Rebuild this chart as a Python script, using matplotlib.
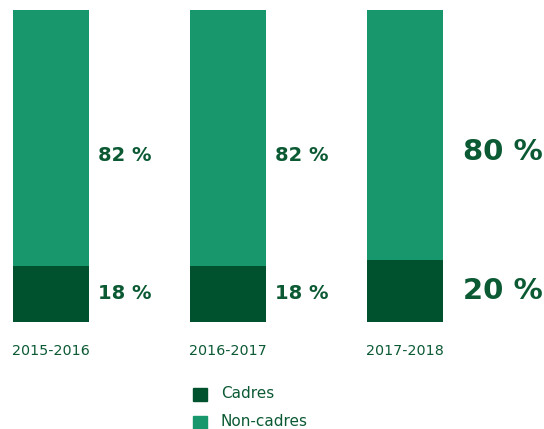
import matplotlib
matplotlib.use("Agg")
import matplotlib.pyplot as plt
from matplotlib.patches import Rectangle

years = ["2015-2016", "2016-2017", "2017-2018"]
cadres = [18, 18, 20]
non_cadres = [82, 82, 80]
series_names = ["Cadres", "Non-cadres"]

dark = "#00522f"
light = "#18966c"
txt = "#0b5a34"

fig = plt.figure(figsize=(5.44, 4.29), dpi=100)
ax = fig.add_axes([0, (429 - 322) / 429, 1, 312 / 429])

step = 177
x = list(range(len(years)))
width = 76 / step
ax.bar(x, cadres, width=width, color=dark)
ax.bar(x, non_cadres, width=width, bottom=cadres, color=light)
ax.set_xlim(-51 / step, (544 - 51) / step)
ax.set_ylim(0, 100)
ax.axis("off")

for i in x:
    big = i == len(years) - 1
    fs = 21 if big else 14
    xoff = 0.33 if big else 0.268
    ax.text(i + xoff, cadres[i] / 2, "{} %".format(cadres[i]), color=txt,
            fontsize=fs, fontweight="bold", va="center", ha="left")
    ax.text(i + xoff, cadres[i] + non_cadres[i] * 0.43, "{} %".format(non_cadres[i]),
            color=txt, fontsize=fs, fontweight="bold", va="center", ha="left")
    ax.text(i, -9.3, years[i], color=txt, fontsize=10.3,
            ha="center", va="center")

# legend
for j, (name, col) in enumerate(zip(series_names, [dark, light])):
    yc = 429 - (394 + j * 28)
    fig.patches.append(Rectangle((193 / 544, (yc - 6.5) / 429), 14 / 544, 13 / 429,
                                 transform=fig.transFigure, color=col))
    fig.text(221 / 544, yc / 429, name, color=txt, fontsize=11, va="center",
             ha="left")

fig.savefig("out.png", dpi=100)
